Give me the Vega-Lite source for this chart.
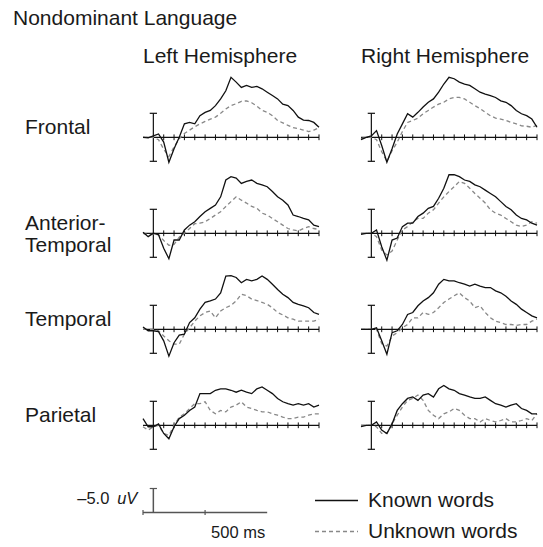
{
"$schema":"https://vega.github.io/schema/vega-lite/v6.json",
"padding":{"left":13,"top":8,"right":0,"bottom":0},
"title":{"text":"Nondominant Language","anchor":"start","dx":-12,"fontSize":21,"fontWeight":"normal","font":"Liberation Sans","color":"#1a1a1a","offset":17},
"config":{"view":{"stroke":null},"font":"Liberation Sans"},
"spacing":20,
"vconcat":[
{
"data":{"values":[
{"r":"Frontal","h":"Left Hemisphere","t":-100,"k":0,"u":0},
{"r":"Frontal","h":"Left Hemisphere","t":-50,"k":0.1,"u":0},
{"r":"Frontal","h":"Left Hemisphere","t":0,"k":-0.3,"u":0},
{"r":"Frontal","h":"Left Hemisphere","t":50,"k":-0.7,"u":0.5},
{"r":"Frontal","h":"Left Hemisphere","t":100,"k":1.0,"u":2.5},
{"r":"Frontal","h":"Left Hemisphere","t":150,"k":5.2,"u":4.0},
{"r":"Frontal","h":"Left Hemisphere","t":200,"k":2.4,"u":2.0},
{"r":"Frontal","h":"Left Hemisphere","t":250,"k":0,"u":0.3},
{"r":"Frontal","h":"Left Hemisphere","t":300,"k":-2.8,"u":-0.8},
{"r":"Frontal","h":"Left Hemisphere","t":350,"k":-3.1,"u":-1.5},
{"r":"Frontal","h":"Left Hemisphere","t":400,"k":-2.8,"u":-2.2},
{"r":"Frontal","h":"Left Hemisphere","t":450,"k":-4.5,"u":-2.8},
{"r":"Frontal","h":"Left Hemisphere","t":500,"k":-5.2,"u":-3.3},
{"r":"Frontal","h":"Left Hemisphere","t":550,"k":-5.6,"u":-3.8},
{"r":"Frontal","h":"Left Hemisphere","t":600,"k":-6.6,"u":-4.2},
{"r":"Frontal","h":"Left Hemisphere","t":650,"k":-8.0,"u":-5.0},
{"r":"Frontal","h":"Left Hemisphere","t":700,"k":-9.7,"u":-5.9},
{"r":"Frontal","h":"Left Hemisphere","t":750,"k":-12.5,"u":-6.6},
{"r":"Frontal","h":"Left Hemisphere","t":800,"k":-11.5,"u":-7.0},
{"r":"Frontal","h":"Left Hemisphere","t":850,"k":-10.4,"u":-7.5},
{"r":"Frontal","h":"Left Hemisphere","t":900,"k":-10.8,"u":-7.6},
{"r":"Frontal","h":"Left Hemisphere","t":950,"k":-10.4,"u":-7.2},
{"r":"Frontal","h":"Left Hemisphere","t":1000,"k":-10.6,"u":-6.5},
{"r":"Frontal","h":"Left Hemisphere","t":1050,"k":-10.1,"u":-5.6},
{"r":"Frontal","h":"Left Hemisphere","t":1100,"k":-9.4,"u":-5.2},
{"r":"Frontal","h":"Left Hemisphere","t":1150,"k":-8.7,"u":-4.5},
{"r":"Frontal","h":"Left Hemisphere","t":1200,"k":-8.0,"u":-3.5},
{"r":"Frontal","h":"Left Hemisphere","t":1250,"k":-6.9,"u":-3.0},
{"r":"Frontal","h":"Left Hemisphere","t":1300,"k":-6.6,"u":-2.5},
{"r":"Frontal","h":"Left Hemisphere","t":1350,"k":-5.6,"u":-2.0},
{"r":"Frontal","h":"Left Hemisphere","t":1400,"k":-4.2,"u":-1.8},
{"r":"Frontal","h":"Left Hemisphere","t":1450,"k":-3.6,"u":-1.5},
{"r":"Frontal","h":"Left Hemisphere","t":1500,"k":-3.5,"u":-1.2},
{"r":"Frontal","h":"Left Hemisphere","t":1550,"k":-3.1,"u":-1.5},
{"r":"Frontal","h":"Left Hemisphere","t":1600,"k":-2.1,"u":-2.0},
{"r":"Frontal","h":"Right Hemisphere","t":-100,"k":0.5,"u":0.3},
{"r":"Frontal","h":"Right Hemisphere","t":-50,"k":0,"u":0},
{"r":"Frontal","h":"Right Hemisphere","t":0,"k":-0.3,"u":0},
{"r":"Frontal","h":"Right Hemisphere","t":50,"k":-1.4,"u":0.5},
{"r":"Frontal","h":"Right Hemisphere","t":100,"k":1.7,"u":3.0},
{"r":"Frontal","h":"Right Hemisphere","t":150,"k":5.2,"u":5.0},
{"r":"Frontal","h":"Right Hemisphere","t":200,"k":2.4,"u":2.8},
{"r":"Frontal","h":"Right Hemisphere","t":250,"k":-0.7,"u":1.0},
{"r":"Frontal","h":"Right Hemisphere","t":300,"k":-2.8,"u":-1.2},
{"r":"Frontal","h":"Right Hemisphere","t":350,"k":-4.9,"u":-3.1},
{"r":"Frontal","h":"Right Hemisphere","t":400,"k":-4.2,"u":-3.5},
{"r":"Frontal","h":"Right Hemisphere","t":450,"k":-5.2,"u":-4.0},
{"r":"Frontal","h":"Right Hemisphere","t":500,"k":-6.3,"u":-4.9},
{"r":"Frontal","h":"Right Hemisphere","t":550,"k":-7.3,"u":-5.6},
{"r":"Frontal","h":"Right Hemisphere","t":600,"k":-8.0,"u":-6.3},
{"r":"Frontal","h":"Right Hemisphere","t":650,"k":-9.4,"u":-6.9},
{"r":"Frontal","h":"Right Hemisphere","t":700,"k":-11.1,"u":-7.3},
{"r":"Frontal","h":"Right Hemisphere","t":750,"k":-12.5,"u":-8.0},
{"r":"Frontal","h":"Right Hemisphere","t":800,"k":-12.2,"u":-8.3},
{"r":"Frontal","h":"Right Hemisphere","t":850,"k":-11.5,"u":-8.3},
{"r":"Frontal","h":"Right Hemisphere","t":900,"k":-11.1,"u":-8.0},
{"r":"Frontal","h":"Right Hemisphere","t":950,"k":-10.8,"u":-7.3},
{"r":"Frontal","h":"Right Hemisphere","t":1000,"k":-10.1,"u":-6.6},
{"r":"Frontal","h":"Right Hemisphere","t":1050,"k":-9.4,"u":-6.0},
{"r":"Frontal","h":"Right Hemisphere","t":1100,"k":-9.0,"u":-5.2},
{"r":"Frontal","h":"Right Hemisphere","t":1150,"k":-8.7,"u":-4.5},
{"r":"Frontal","h":"Right Hemisphere","t":1200,"k":-8.3,"u":-4.0},
{"r":"Frontal","h":"Right Hemisphere","t":1250,"k":-7.6,"u":-3.8},
{"r":"Frontal","h":"Right Hemisphere","t":1300,"k":-7.3,"u":-3.5},
{"r":"Frontal","h":"Right Hemisphere","t":1350,"k":-6.6,"u":-3.1},
{"r":"Frontal","h":"Right Hemisphere","t":1400,"k":-5.6,"u":-2.8},
{"r":"Frontal","h":"Right Hemisphere","t":1450,"k":-4.9,"u":-2.4},
{"r":"Frontal","h":"Right Hemisphere","t":1500,"k":-4.5,"u":-2.3},
{"r":"Frontal","h":"Right Hemisphere","t":1550,"k":-3.8,"u":-2.1},
{"r":"Frontal","h":"Right Hemisphere","t":1600,"k":-2.1,"u":-2.5},
{"r":"Anterior-Temporal","h":"Left Hemisphere","t":-100,"k":-0.2,"u":0},
{"r":"Anterior-Temporal","h":"Left Hemisphere","t":-50,"k":0.7,"u":0.3},
{"r":"Anterior-Temporal","h":"Left Hemisphere","t":0,"k":0,"u":0.2},
{"r":"Anterior-Temporal","h":"Left Hemisphere","t":50,"k":0.3,"u":0.3},
{"r":"Anterior-Temporal","h":"Left Hemisphere","t":100,"k":3.1,"u":1.5},
{"r":"Anterior-Temporal","h":"Left Hemisphere","t":150,"k":5.3,"u":2.5},
{"r":"Anterior-Temporal","h":"Left Hemisphere","t":200,"k":1.4,"u":2.3},
{"r":"Anterior-Temporal","h":"Left Hemisphere","t":250,"k":1.4,"u":0.8},
{"r":"Anterior-Temporal","h":"Left Hemisphere","t":300,"k":-0.7,"u":0},
{"r":"Anterior-Temporal","h":"Left Hemisphere","t":350,"k":-1.7,"u":-1.0},
{"r":"Anterior-Temporal","h":"Left Hemisphere","t":400,"k":-2.4,"u":-2.0},
{"r":"Anterior-Temporal","h":"Left Hemisphere","t":450,"k":-3.5,"u":-2.1},
{"r":"Anterior-Temporal","h":"Left Hemisphere","t":500,"k":-4.5,"u":-2.4},
{"r":"Anterior-Temporal","h":"Left Hemisphere","t":550,"k":-5.2,"u":-3.1},
{"r":"Anterior-Temporal","h":"Left Hemisphere","t":600,"k":-5.9,"u":-3.8},
{"r":"Anterior-Temporal","h":"Left Hemisphere","t":650,"k":-7.6,"u":-4.5},
{"r":"Anterior-Temporal","h":"Left Hemisphere","t":700,"k":-11.1,"u":-5.6},
{"r":"Anterior-Temporal","h":"Left Hemisphere","t":750,"k":-11.8,"u":-6.6},
{"r":"Anterior-Temporal","h":"Left Hemisphere","t":800,"k":-11.5,"u":-7.6},
{"r":"Anterior-Temporal","h":"Left Hemisphere","t":850,"k":-10.4,"u":-6.9},
{"r":"Anterior-Temporal","h":"Left Hemisphere","t":900,"k":-10.8,"u":-6.3},
{"r":"Anterior-Temporal","h":"Left Hemisphere","t":950,"k":-11.1,"u":-5.6},
{"r":"Anterior-Temporal","h":"Left Hemisphere","t":1000,"k":-10.4,"u":-5.2},
{"r":"Anterior-Temporal","h":"Left Hemisphere","t":1050,"k":-10.1,"u":-4.2},
{"r":"Anterior-Temporal","h":"Left Hemisphere","t":1100,"k":-9.7,"u":-3.8},
{"r":"Anterior-Temporal","h":"Left Hemisphere","t":1150,"k":-8.7,"u":-3.1},
{"r":"Anterior-Temporal","h":"Left Hemisphere","t":1200,"k":-7.6,"u":-2.4},
{"r":"Anterior-Temporal","h":"Left Hemisphere","t":1250,"k":-6.9,"u":-1.7},
{"r":"Anterior-Temporal","h":"Left Hemisphere","t":1300,"k":-5.9,"u":-1.0},
{"r":"Anterior-Temporal","h":"Left Hemisphere","t":1350,"k":-3.8,"u":-0.7},
{"r":"Anterior-Temporal","h":"Left Hemisphere","t":1400,"k":-3.5,"u":-0.5},
{"r":"Anterior-Temporal","h":"Left Hemisphere","t":1450,"k":-3.1,"u":-1.0},
{"r":"Anterior-Temporal","h":"Left Hemisphere","t":1500,"k":-2.8,"u":-1.4},
{"r":"Anterior-Temporal","h":"Left Hemisphere","t":1550,"k":-1.7,"u":-1.0},
{"r":"Anterior-Temporal","h":"Left Hemisphere","t":1600,"k":-1.4,"u":-0.8},
{"r":"Anterior-Temporal","h":"Right Hemisphere","t":-100,"k":0.2,"u":0},
{"r":"Anterior-Temporal","h":"Right Hemisphere","t":-50,"k":0,"u":0},
{"r":"Anterior-Temporal","h":"Right Hemisphere","t":0,"k":0,"u":0},
{"r":"Anterior-Temporal","h":"Right Hemisphere","t":50,"k":-0.7,"u":0.7},
{"r":"Anterior-Temporal","h":"Right Hemisphere","t":100,"k":2.8,"u":3.5},
{"r":"Anterior-Temporal","h":"Right Hemisphere","t":150,"k":5.6,"u":4.5},
{"r":"Anterior-Temporal","h":"Right Hemisphere","t":200,"k":1.4,"u":3.7},
{"r":"Anterior-Temporal","h":"Right Hemisphere","t":250,"k":1.0,"u":1.4},
{"r":"Anterior-Temporal","h":"Right Hemisphere","t":300,"k":-1.4,"u":-0.7},
{"r":"Anterior-Temporal","h":"Right Hemisphere","t":350,"k":-2.1,"u":-1.4},
{"r":"Anterior-Temporal","h":"Right Hemisphere","t":400,"k":-2.1,"u":-2.4},
{"r":"Anterior-Temporal","h":"Right Hemisphere","t":450,"k":-3.5,"u":-3.1},
{"r":"Anterior-Temporal","h":"Right Hemisphere","t":500,"k":-4.2,"u":-3.1},
{"r":"Anterior-Temporal","h":"Right Hemisphere","t":550,"k":-5.2,"u":-4.2},
{"r":"Anterior-Temporal","h":"Right Hemisphere","t":600,"k":-5.6,"u":-4.9},
{"r":"Anterior-Temporal","h":"Right Hemisphere","t":650,"k":-7.3,"u":-6.3},
{"r":"Anterior-Temporal","h":"Right Hemisphere","t":700,"k":-9.4,"u":-7.6},
{"r":"Anterior-Temporal","h":"Right Hemisphere","t":750,"k":-12.2,"u":-8.7},
{"r":"Anterior-Temporal","h":"Right Hemisphere","t":800,"k":-12.2,"u":-9.7},
{"r":"Anterior-Temporal","h":"Right Hemisphere","t":850,"k":-11.8,"u":-10.8},
{"r":"Anterior-Temporal","h":"Right Hemisphere","t":900,"k":-11.1,"u":-10.4},
{"r":"Anterior-Temporal","h":"Right Hemisphere","t":950,"k":-10.8,"u":-9.4},
{"r":"Anterior-Temporal","h":"Right Hemisphere","t":1000,"k":-10.1,"u":-8.3},
{"r":"Anterior-Temporal","h":"Right Hemisphere","t":1050,"k":-9.7,"u":-7.3},
{"r":"Anterior-Temporal","h":"Right Hemisphere","t":1100,"k":-9.0,"u":-6.3},
{"r":"Anterior-Temporal","h":"Right Hemisphere","t":1150,"k":-8.3,"u":-4.9},
{"r":"Anterior-Temporal","h":"Right Hemisphere","t":1200,"k":-7.6,"u":-4.2},
{"r":"Anterior-Temporal","h":"Right Hemisphere","t":1250,"k":-6.6,"u":-3.8},
{"r":"Anterior-Temporal","h":"Right Hemisphere","t":1300,"k":-5.6,"u":-3.1},
{"r":"Anterior-Temporal","h":"Right Hemisphere","t":1350,"k":-4.9,"u":-2.4},
{"r":"Anterior-Temporal","h":"Right Hemisphere","t":1400,"k":-3.8,"u":-1.7},
{"r":"Anterior-Temporal","h":"Right Hemisphere","t":1450,"k":-3.1,"u":-1.4},
{"r":"Anterior-Temporal","h":"Right Hemisphere","t":1500,"k":-2.8,"u":-1.7},
{"r":"Anterior-Temporal","h":"Right Hemisphere","t":1550,"k":-2.1,"u":-2.4},
{"r":"Anterior-Temporal","h":"Right Hemisphere","t":1600,"k":-1.7,"u":-2.1},
{"r":"Temporal","h":"Left Hemisphere","t":-100,"k":-0.5,"u":0},
{"r":"Temporal","h":"Left Hemisphere","t":-50,"k":0.3,"u":0},
{"r":"Temporal","h":"Left Hemisphere","t":0,"k":0.3,"u":0},
{"r":"Temporal","h":"Left Hemisphere","t":50,"k":0.5,"u":0.3},
{"r":"Temporal","h":"Left Hemisphere","t":100,"k":2.4,"u":1.4},
{"r":"Temporal","h":"Left Hemisphere","t":150,"k":5.6,"u":2.4},
{"r":"Temporal","h":"Left Hemisphere","t":200,"k":2.8,"u":3.1},
{"r":"Temporal","h":"Left Hemisphere","t":250,"k":1.2,"u":3.1},
{"r":"Temporal","h":"Left Hemisphere","t":300,"k":1.0,"u":1.0},
{"r":"Temporal","h":"Left Hemisphere","t":350,"k":-1.4,"u":-0.3},
{"r":"Temporal","h":"Left Hemisphere","t":400,"k":-2.4,"u":-1.7},
{"r":"Temporal","h":"Left Hemisphere","t":450,"k":-4.2,"u":-2.8},
{"r":"Temporal","h":"Left Hemisphere","t":500,"k":-5.6,"u":-3.5},
{"r":"Temporal","h":"Left Hemisphere","t":550,"k":-5.9,"u":-3.8},
{"r":"Temporal","h":"Left Hemisphere","t":600,"k":-6.3,"u":-2.4},
{"r":"Temporal","h":"Left Hemisphere","t":650,"k":-7.6,"u":-3.8},
{"r":"Temporal","h":"Left Hemisphere","t":700,"k":-11.1,"u":-4.5},
{"r":"Temporal","h":"Left Hemisphere","t":750,"k":-11.2,"u":-5.0},
{"r":"Temporal","h":"Left Hemisphere","t":800,"k":-10.8,"u":-5.9},
{"r":"Temporal","h":"Left Hemisphere","t":850,"k":-9.7,"u":-7.3},
{"r":"Temporal","h":"Left Hemisphere","t":900,"k":-10.4,"u":-7.0},
{"r":"Temporal","h":"Left Hemisphere","t":950,"k":-10.1,"u":-6.3},
{"r":"Temporal","h":"Left Hemisphere","t":1000,"k":-10.4,"u":-6.0},
{"r":"Temporal","h":"Left Hemisphere","t":1050,"k":-11.1,"u":-5.6},
{"r":"Temporal","h":"Left Hemisphere","t":1100,"k":-10.4,"u":-5.2},
{"r":"Temporal","h":"Left Hemisphere","t":1150,"k":-9.4,"u":-4.5},
{"r":"Temporal","h":"Left Hemisphere","t":1200,"k":-8.3,"u":-3.5},
{"r":"Temporal","h":"Left Hemisphere","t":1250,"k":-7.3,"u":-3.0},
{"r":"Temporal","h":"Left Hemisphere","t":1300,"k":-6.6,"u":-2.4},
{"r":"Temporal","h":"Left Hemisphere","t":1350,"k":-5.6,"u":-2.1},
{"r":"Temporal","h":"Left Hemisphere","t":1400,"k":-5.2,"u":-1.7},
{"r":"Temporal","h":"Left Hemisphere","t":1450,"k":-4.9,"u":-1.7},
{"r":"Temporal","h":"Left Hemisphere","t":1500,"k":-4.5,"u":-1.7},
{"r":"Temporal","h":"Left Hemisphere","t":1550,"k":-3.5,"u":-1.7},
{"r":"Temporal","h":"Left Hemisphere","t":1600,"k":-3.1,"u":-2.1},
{"r":"Temporal","h":"Right Hemisphere","t":-100,"k":0,"u":0},
{"r":"Temporal","h":"Right Hemisphere","t":-50,"k":0,"u":0},
{"r":"Temporal","h":"Right Hemisphere","t":0,"k":0,"u":0},
{"r":"Temporal","h":"Right Hemisphere","t":50,"k":-0.3,"u":0},
{"r":"Temporal","h":"Right Hemisphere","t":100,"k":2.4,"u":3.0},
{"r":"Temporal","h":"Right Hemisphere","t":150,"k":5.2,"u":3.5},
{"r":"Temporal","h":"Right Hemisphere","t":200,"k":0.7,"u":1.4},
{"r":"Temporal","h":"Right Hemisphere","t":250,"k":0.3,"u":0.7},
{"r":"Temporal","h":"Right Hemisphere","t":300,"k":-1.0,"u":-0.3},
{"r":"Temporal","h":"Right Hemisphere","t":350,"k":-3.1,"u":-1.0},
{"r":"Temporal","h":"Right Hemisphere","t":400,"k":-3.5,"u":-2.4},
{"r":"Temporal","h":"Right Hemisphere","t":450,"k":-4.9,"u":-2.4},
{"r":"Temporal","h":"Right Hemisphere","t":500,"k":-5.9,"u":-3.5},
{"r":"Temporal","h":"Right Hemisphere","t":550,"k":-6.6,"u":-3.1},
{"r":"Temporal","h":"Right Hemisphere","t":600,"k":-7.6,"u":-3.5},
{"r":"Temporal","h":"Right Hemisphere","t":650,"k":-9.4,"u":-4.5},
{"r":"Temporal","h":"Right Hemisphere","t":700,"k":-10.4,"u":-5.6},
{"r":"Temporal","h":"Right Hemisphere","t":750,"k":-10.1,"u":-6.3},
{"r":"Temporal","h":"Right Hemisphere","t":800,"k":-10.1,"u":-7.0},
{"r":"Temporal","h":"Right Hemisphere","t":850,"k":-9.7,"u":-7.6},
{"r":"Temporal","h":"Right Hemisphere","t":900,"k":-9.4,"u":-6.6},
{"r":"Temporal","h":"Right Hemisphere","t":950,"k":-9.0,"u":-5.9},
{"r":"Temporal","h":"Right Hemisphere","t":1000,"k":-9.4,"u":-4.5},
{"r":"Temporal","h":"Right Hemisphere","t":1050,"k":-9.0,"u":-4.9},
{"r":"Temporal","h":"Right Hemisphere","t":1100,"k":-8.7,"u":-3.5},
{"r":"Temporal","h":"Right Hemisphere","t":1150,"k":-8.7,"u":-2.4},
{"r":"Temporal","h":"Right Hemisphere","t":1200,"k":-8.0,"u":-1.7},
{"r":"Temporal","h":"Right Hemisphere","t":1250,"k":-7.6,"u":-1.4},
{"r":"Temporal","h":"Right Hemisphere","t":1300,"k":-6.9,"u":-1.0},
{"r":"Temporal","h":"Right Hemisphere","t":1350,"k":-5.9,"u":-1.0},
{"r":"Temporal","h":"Right Hemisphere","t":1400,"k":-5.2,"u":-0.8},
{"r":"Temporal","h":"Right Hemisphere","t":1450,"k":-4.2,"u":-1.0},
{"r":"Temporal","h":"Right Hemisphere","t":1500,"k":-3.5,"u":-1.0},
{"r":"Temporal","h":"Right Hemisphere","t":1550,"k":-2.8,"u":-1.7},
{"r":"Temporal","h":"Right Hemisphere","t":1600,"k":-2.4,"u":-2.1},
{"r":"Parietal","h":"Left Hemisphere","t":-100,"k":-1.4,"u":0.3},
{"r":"Parietal","h":"Left Hemisphere","t":-50,"k":0.3,"u":1.0},
{"r":"Parietal","h":"Left Hemisphere","t":0,"k":0.3,"u":0.3},
{"r":"Parietal","h":"Left Hemisphere","t":50,"k":-0.3,"u":0},
{"r":"Parietal","h":"Left Hemisphere","t":100,"k":1.7,"u":1.7},
{"r":"Parietal","h":"Left Hemisphere","t":150,"k":2.8,"u":2.1},
{"r":"Parietal","h":"Left Hemisphere","t":200,"k":0.3,"u":0},
{"r":"Parietal","h":"Left Hemisphere","t":250,"k":-1.4,"u":-1.7},
{"r":"Parietal","h":"Left Hemisphere","t":300,"k":-2.1,"u":-2.4},
{"r":"Parietal","h":"Left Hemisphere","t":350,"k":-3.1,"u":-3.5},
{"r":"Parietal","h":"Left Hemisphere","t":400,"k":-3.8,"u":-4.5},
{"r":"Parietal","h":"Left Hemisphere","t":450,"k":-6.6,"u":-4.5},
{"r":"Parietal","h":"Left Hemisphere","t":500,"k":-6.6,"u":-4.9},
{"r":"Parietal","h":"Left Hemisphere","t":550,"k":-6.6,"u":-3.1},
{"r":"Parietal","h":"Left Hemisphere","t":600,"k":-7.3,"u":-2.4},
{"r":"Parietal","h":"Left Hemisphere","t":650,"k":-7.6,"u":-3.1},
{"r":"Parietal","h":"Left Hemisphere","t":700,"k":-7.6,"u":-2.8},
{"r":"Parietal","h":"Left Hemisphere","t":750,"k":-7.3,"u":-3.8},
{"r":"Parietal","h":"Left Hemisphere","t":800,"k":-6.9,"u":-4.2},
{"r":"Parietal","h":"Left Hemisphere","t":850,"k":-7.3,"u":-4.9},
{"r":"Parietal","h":"Left Hemisphere","t":900,"k":-6.9,"u":-3.8},
{"r":"Parietal","h":"Left Hemisphere","t":950,"k":-6.6,"u":-3.5},
{"r":"Parietal","h":"Left Hemisphere","t":1000,"k":-7.6,"u":-3.1},
{"r":"Parietal","h":"Left Hemisphere","t":1050,"k":-8.0,"u":-2.8},
{"r":"Parietal","h":"Left Hemisphere","t":1100,"k":-7.3,"u":-2.8},
{"r":"Parietal","h":"Left Hemisphere","t":1150,"k":-6.6,"u":-2.4},
{"r":"Parietal","h":"Left Hemisphere","t":1200,"k":-5.6,"u":-2.1},
{"r":"Parietal","h":"Left Hemisphere","t":1250,"k":-4.9,"u":-1.7},
{"r":"Parietal","h":"Left Hemisphere","t":1300,"k":-4.5,"u":-1.4},
{"r":"Parietal","h":"Left Hemisphere","t":1350,"k":-4.2,"u":-1.4},
{"r":"Parietal","h":"Left Hemisphere","t":1400,"k":-4.5,"u":-1.7},
{"r":"Parietal","h":"Left Hemisphere","t":1450,"k":-4.2,"u":-1.7},
{"r":"Parietal","h":"Left Hemisphere","t":1500,"k":-4.5,"u":-2.1},
{"r":"Parietal","h":"Left Hemisphere","t":1550,"k":-3.8,"u":-2.4},
{"r":"Parietal","h":"Left Hemisphere","t":1600,"k":-4.2,"u":-2.4},
{"r":"Parietal","h":"Right Hemisphere","t":-100,"k":0.3,"u":0},
{"r":"Parietal","h":"Right Hemisphere","t":-50,"k":0,"u":0},
{"r":"Parietal","h":"Right Hemisphere","t":0,"k":0,"u":0},
{"r":"Parietal","h":"Right Hemisphere","t":50,"k":-0.7,"u":0.3},
{"r":"Parietal","h":"Right Hemisphere","t":100,"k":1.0,"u":1.7},
{"r":"Parietal","h":"Right Hemisphere","t":150,"k":1.7,"u":1.7},
{"r":"Parietal","h":"Right Hemisphere","t":200,"k":-0.3,"u":-0.3},
{"r":"Parietal","h":"Right Hemisphere","t":250,"k":-3.1,"u":-2.1},
{"r":"Parietal","h":"Right Hemisphere","t":300,"k":-4.5,"u":-3.8},
{"r":"Parietal","h":"Right Hemisphere","t":350,"k":-5.6,"u":-5.2},
{"r":"Parietal","h":"Right Hemisphere","t":400,"k":-5.9,"u":-5.6},
{"r":"Parietal","h":"Right Hemisphere","t":450,"k":-5.2,"u":-6.3},
{"r":"Parietal","h":"Right Hemisphere","t":500,"k":-6.3,"u":-5.2},
{"r":"Parietal","h":"Right Hemisphere","t":550,"k":-6.6,"u":-3.1},
{"r":"Parietal","h":"Right Hemisphere","t":600,"k":-5.9,"u":-2.1},
{"r":"Parietal","h":"Right Hemisphere","t":650,"k":-7.6,"u":-1.4},
{"r":"Parietal","h":"Right Hemisphere","t":700,"k":-8.3,"u":-2.4},
{"r":"Parietal","h":"Right Hemisphere","t":750,"k":-7.6,"u":-2.8},
{"r":"Parietal","h":"Right Hemisphere","t":800,"k":-7.3,"u":-3.5},
{"r":"Parietal","h":"Right Hemisphere","t":850,"k":-6.6,"u":-3.1},
{"r":"Parietal","h":"Right Hemisphere","t":900,"k":-6.3,"u":-2.1},
{"r":"Parietal","h":"Right Hemisphere","t":950,"k":-5.9,"u":-1.4},
{"r":"Parietal","h":"Right Hemisphere","t":1000,"k":-5.6,"u":-1.4},
{"r":"Parietal","h":"Right Hemisphere","t":1050,"k":-5.6,"u":-0.7},
{"r":"Parietal","h":"Right Hemisphere","t":1100,"k":-5.9,"u":-1.4},
{"r":"Parietal","h":"Right Hemisphere","t":1150,"k":-5.2,"u":-1.0},
{"r":"Parietal","h":"Right Hemisphere","t":1200,"k":-4.5,"u":-0.7},
{"r":"Parietal","h":"Right Hemisphere","t":1250,"k":-4.2,"u":-1.0},
{"r":"Parietal","h":"Right Hemisphere","t":1300,"k":-3.8,"u":-1.4},
{"r":"Parietal","h":"Right Hemisphere","t":1350,"k":-4.2,"u":-0.7},
{"r":"Parietal","h":"Right Hemisphere","t":1400,"k":-4.5,"u":-0.7},
{"r":"Parietal","h":"Right Hemisphere","t":1450,"k":-3.5,"u":-1.0},
{"r":"Parietal","h":"Right Hemisphere","t":1500,"k":-3.1,"u":-1.4},
{"r":"Parietal","h":"Right Hemisphere","t":1550,"k":-2.4,"u":-1.0},
{"r":"Parietal","h":"Right Hemisphere","t":1600,"k":-2.4,"u":-2.4}
]},
"facet":{
"row":{"field":"r","type":"nominal","sort":["Frontal","Anterior-Temporal","Temporal","Parietal"],"title":null,"header":{"labels":false}},
"column":{"field":"h","type":"nominal","sort":["Left Hemisphere","Right Hemisphere"],"title":null,
"header":{"labelOrient":"top","labelAlign":"left","labelAnchor":"start","labelBaseline":"alphabetic","labelFontSize":21,"labelFont":"Liberation Sans","labelColor":"#1a1a1a","labelPadding":-3}}
},
"spacing":{"row":0,"column":42},
"bounds":"flush",
"spec":{
"width":176,"height":96,
"layer":[
{"transform":[{"filter":"datum.t == -100"}],"mark":{"type":"rule","color":"#111","strokeWidth":1.2},
"encoding":{"x":{"datum":-100,"type":"quantitative","scale":{"domain":[-100,1600],"nice":false,"zero":false},"axis":null},"x2":{"datum":1600},
"y":{"datum":0,"type":"quantitative","scale":{"domain":[-11.73,8.27],"reverse":true,"nice":false,"zero":false},"axis":null}}},
{"transform":[{"filter":"datum.t >= 100 && datum.t % 100 == 0"}],"mark":{"type":"rule","color":"#111","strokeWidth":1},
"encoding":{"x":{"field":"t","type":"quantitative","axis":null},"y":{"datum":-0.6,"type":"quantitative","axis":null},"y2":{"datum":0.6}}},
{"transform":[{"filter":"datum.t == 0"}],"mark":{"type":"rule","color":"#111","strokeWidth":1.2},
"encoding":{"x":{"field":"t","type":"quantitative","axis":null},"y":{"datum":-5,"type":"quantitative","axis":null},"y2":{"datum":5}}},
{"transform":[{"filter":"datum.t == 0"}],"mark":{"type":"rule","color":"#111","strokeWidth":1.2},
"encoding":{"x":{"datum":-35,"type":"quantitative","axis":null},"x2":{"datum":35},"y":{"datum":-5,"type":"quantitative","axis":null}}},
{"transform":[{"filter":"datum.t == 0"}],"mark":{"type":"rule","color":"#111","strokeWidth":1.2},
"encoding":{"x":{"datum":-35,"type":"quantitative","axis":null},"x2":{"datum":35},"y":{"datum":5,"type":"quantitative","axis":null}}},
{"mark":{"type":"line","color":"#888","strokeWidth":1.3,"strokeDash":[4,3]},
"encoding":{"x":{"field":"t","type":"quantitative","axis":null},"y":{"field":"u","type":"quantitative","axis":null}}},
{"mark":{"type":"line","color":"#111","strokeWidth":1.3},
"encoding":{"x":{"field":"t","type":"quantitative","axis":null},"y":{"field":"k","type":"quantitative","axis":null}}},
{"transform":[{"filter":"datum.t == -100 && datum.h == 'Left Hemisphere'"},{"calculate":"datum.r == 'Anterior-Temporal' ? ['Anterior-', 'Temporal'] : datum.r","as":"lbl"}],
"mark":{"type":"text","align":"left","baseline":"alphabetic","dx":-118,"fontSize":21,"lineHeight":22,"color":"#1a1a1a"},
"encoding":{"x":{"datum":-100,"type":"quantitative","axis":null},"y":{"datum":-0.6,"type":"quantitative","axis":null},"text":{"field":"lbl"}}}
]
}
},
{
"spacing":47,
"bounds":"flush",
"hconcat":[
{
"width":125,"height":60,
"data":{"values":[{"t0":-100,"t1":1100,"tick":500,"amp":-5,"ampLabel":"–5.0","unit":"uV","timeLabel":"500 ms"}]},
"layer":[
{"mark":{"type":"rule","color":"#555","strokeWidth":1.5},
"encoding":{"x":{"field":"t0","type":"quantitative","scale":{"domain":[-100,1108],"nice":false,"zero":false},"axis":null},"x2":{"field":"t1"},
"y":{"datum":0,"type":"quantitative","scale":{"domain":[-5.73,6.77],"reverse":true,"nice":false,"zero":false},"axis":null}}},
{"mark":{"type":"rule","color":"#555","strokeWidth":1.2},
"encoding":{"x":{"field":"t0","type":"quantitative","axis":null},"y":{"datum":-0.5,"type":"quantitative","axis":null},"y2":{"datum":0.5}}},
{"mark":{"type":"rule","color":"#555","strokeWidth":1.2},
"encoding":{"x":{"field":"tick","type":"quantitative","axis":null},"y":{"datum":-0.5,"type":"quantitative","axis":null},"y2":{"datum":0.5}}},
{"mark":{"type":"rule","color":"#555","strokeWidth":1.5},
"encoding":{"x":{"datum":0,"type":"quantitative","axis":null},"y":{"field":"amp","type":"quantitative","axis":null},"y2":{"datum":0}}},
{"mark":{"type":"rule","color":"#555","strokeWidth":1.2},
"encoding":{"x":{"datum":-35,"type":"quantitative","axis":null},"x2":{"datum":35},"y":{"field":"amp","type":"quantitative","axis":null}}},
{"mark":{"type":"text","align":"right","baseline":"alphabetic","dx":-44,"dy":15,"fontSize":16.5,"color":"#1a1a1a"},
"encoding":{"x":{"datum":0,"type":"quantitative","axis":null},"y":{"field":"amp","type":"quantitative","axis":null},"text":{"field":"ampLabel"}}},
{"mark":{"type":"text","align":"right","baseline":"alphabetic","dx":-16,"dy":15,"fontSize":16.5,"fontStyle":"italic","color":"#1a1a1a"},
"encoding":{"x":{"datum":0,"type":"quantitative","axis":null},"y":{"field":"amp","type":"quantitative","axis":null},"text":{"field":"unit"}}},
{"mark":{"type":"text","align":"left","baseline":"alphabetic","dx":6,"dy":25,"fontSize":16.5,"color":"#1a1a1a"},
"encoding":{"x":{"field":"tick","type":"quantitative","axis":null},"y":{"datum":0,"type":"quantitative","axis":null},"text":{"field":"timeLabel"}}}
]
},
{
"width":43,"height":62,
"data":{"values":[{"label":"Known words"},{"label":"Unknown words"}]},
"layer":[
{"transform":[{"filter":"datum.label == 'Known words'"}],"mark":{"type":"rule","color":"#111","strokeWidth":1.3},
"encoding":{"x":{"datum":0,"type":"quantitative","scale":{"domain":[0,1]},"axis":null},"x2":{"datum":1},
"y":{"field":"label","type":"nominal","sort":["Known words","Unknown words"],"scale":{"type":"point","padding":0.5,"domain":["Known words","Unknown words"]},"axis":null}}},
{"transform":[{"filter":"datum.label == 'Unknown words'"}],"mark":{"type":"rule","color":"#888","strokeWidth":1.3,"strokeDash":[4,3]},
"encoding":{"x":{"datum":0,"type":"quantitative","axis":null},"x2":{"datum":1},
"y":{"field":"label","type":"nominal","axis":null}}},
{"mark":{"type":"text","align":"left","baseline":"middle","dx":10,"fontSize":21,"color":"#1a1a1a"},
"encoding":{"x":{"datum":1,"type":"quantitative","axis":null},"y":{"field":"label","type":"nominal","axis":null},"text":{"field":"label"}}}
]
}
]
}
]
}
